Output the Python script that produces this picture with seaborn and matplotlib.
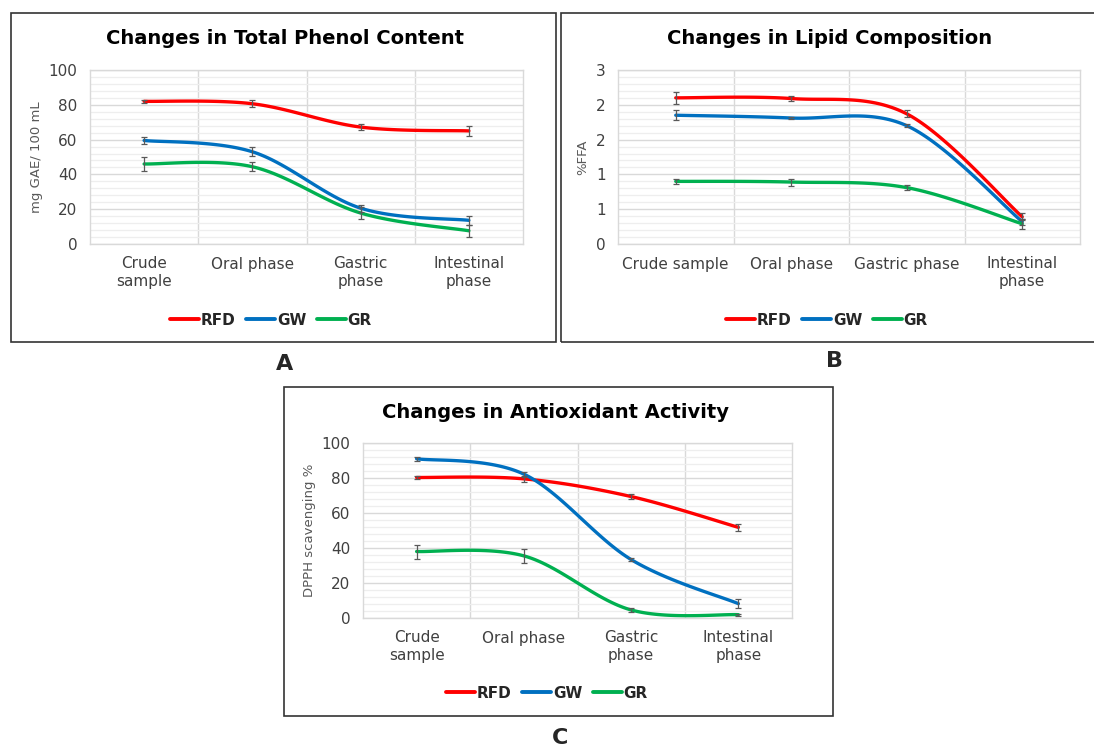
import numpy as np
import pandas as pd
import matplotlib
matplotlib.use("Agg")
import matplotlib.pyplot as plt
import seaborn as sns
from matplotlib.patches import Rectangle
from matplotlib.ticker import MultipleLocator

# ---- data ----
series = ["RFD", "GW", "GR"]
colors = ["#ff0000", "#0070c0", "#00b050"]

stages_wrapped = ["Crude\nsample", "Oral phase", "Gastric\nphase", "Intestinal\nphase"]
stages_wide = ["Crude sample", "Oral phase", "Gastric phase", "Intestinal\nphase"]

# A: total phenol content (mg GAE / 100 mL)
phenol_rfd = [82.0, 80.6, 67.2, 65.0]
phenol_gw = [59.5, 53.0, 20.6, 13.6]
phenol_gr = [46.0, 44.4, 17.8, 7.6]
phenol_rfd_err = [1.0, 2.0, 1.5, 3.0]
phenol_gw_err = [2.0, 2.5, 2.0, 2.5]
phenol_gr_err = [4.0, 2.5, 3.5, 3.5]

# B: lipid composition (%FFA)
ffa_rfd = [2.10, 2.09, 1.87, 0.39]
ffa_gw = [1.85, 1.81, 1.70, 0.32]
ffa_gr = [0.90, 0.89, 0.81, 0.29]
ffa_rfd_err = [0.09, 0.04, 0.05, 0.05]
ffa_gw_err = [0.07, 0.01, 0.02, 0.04]
ffa_gr_err = [0.04, 0.05, 0.04, 0.07]
ffa_ticklabels = ["0", "1", "1", "2", "2", "3"]

# C: antioxidant activity (DPPH scavenging %)
dpph_rfd = [80.3, 79.5, 69.4, 51.8]
dpph_gw = [91.0, 82.2, 33.4, 8.2]
dpph_gr = [38.0, 35.5, 4.6, 1.9]
dpph_rfd_err = [0.6, 1.5, 1.5, 2.0]
dpph_gw_err = [1.0, 1.5, 1.0, 2.5]
dpph_gr_err = [4.0, 4.0, 1.2, 0.6]

W, H = 1094, 746

sns.set_style("white")
plt.rcParams["font.family"] = ["DejaVu Sans"]

fig = plt.figure(figsize=(W / 100, H / 100), dpi=100)


def px_rect(x0, y0, x1, y1):
    return [x0 / W, 1 - y1 / H, (x1 - x0) / W, (y1 - y0) / H]


def smooth(xs, ys, n=40):
    # Excel-style smoothed line: Catmull-Rom segments drawn as cubic Bezier
    pts = np.column_stack([xs, ys]).astype(float)
    P = np.vstack([pts[0], pts, pts[-1]])
    out = []
    for i in range(len(pts) - 1):
        p0, p1, p2, p3 = P[i], P[i + 1], P[i + 2], P[i + 3]
        c1 = p1 + (p2 - p0) / 6
        c2 = p2 - (p3 - p1) / 6
        t = np.linspace(0, 1, n, endpoint=(i == len(pts) - 2))[:, None]
        out.append((1 - t) ** 3 * p1 + 3 * (1 - t) ** 2 * t * c1
                   + 3 * (1 - t) * t ** 2 * c2 + t ** 3 * p2)
    return np.vstack(out)


def draw_panel(box, vals, errs, labels, ylim, major, minor, ylabel, ylabel_px,
               title, title_xy, legend_xy, yticklabels=None):
    x0, y0, x1, y1 = box
    ax = fig.add_axes(px_rect(x0, y0, x1, y1))
    xs = np.arange(len(labels))
    frames = []
    for name, v in zip(series, vals):
        pts = smooth(xs, v)
        frames.append(pd.DataFrame({"x": pts[:, 0], "y": pts[:, 1], "series": name}))
    df = pd.concat(frames, ignore_index=True)
    sns.lineplot(data=df, x="x", y="y", hue="series", hue_order=series,
                 palette=colors, sort=False, estimator=None, linewidth=2.4, ax=ax)
    for v, e in zip(vals, errs):
        ax.errorbar(xs, v, yerr=e, fmt="none", ecolor="#595959", elinewidth=0.9,
                    capsize=2.5, capthick=0.9, zorder=5)

    ax.set_xlim(-0.5, len(labels) - 0.5)
    ax.set_ylim(*ylim)
    ax.yaxis.set_major_locator(MultipleLocator(major))
    ax.yaxis.set_minor_locator(MultipleLocator(minor))
    if yticklabels is not None:
        ax.set_yticks(np.arange(len(yticklabels)) * major)
        ax.set_yticklabels(yticklabels)
    ax.set_xticks(xs)
    ax.set_xticklabels(labels)
    ax.set_xticks(xs[:-1] + 0.5, minor=True)
    ax.grid(which="major", axis="y", color="#d9d9d9", lw=1.0)
    ax.grid(which="minor", axis="y", color="#eeeeee", lw=0.9)
    ax.grid(which="minor", axis="x", color="#d9d9d9", lw=1.0)
    ax.set_axisbelow(True)
    ax.tick_params(which="both", length=0)
    ax.tick_params(axis="y", pad=9, labelsize=11, labelcolor="#404040")
    ax.tick_params(axis="x", pad=9, labelsize=11, labelcolor="#404040")
    for s in ax.spines.values():
        s.set_color("#d9d9d9")
        s.set_linewidth(1.0)
    ax.set_xlabel("")
    ax.set_ylabel(ylabel, fontsize=9.5, color="#595959")
    ax.yaxis.set_label_coords((ylabel_px - x0) / (x1 - x0), 0.5)

    leg = ax.get_legend()
    handles = leg.legend_handles
    texts = [t.get_text() for t in leg.texts]
    leg.remove()
    for h in handles:
        h.set_linewidth(2.8)
    ax.legend(handles, texts, loc="center", ncol=3, frameon=False,
              bbox_to_anchor=(legend_xy[0] / W, 1 - legend_xy[1] / H),
              bbox_transform=fig.transFigure, handlelength=1.9,
              handletextpad=0.1, columnspacing=0.7,
              prop={"weight": "bold", "size": 11})

    fig.text(title_xy[0] / W, 1 - title_xy[1] / H, title, ha="center",
             va="center", fontsize=14, fontweight="bold", color="black")
    return ax


draw_panel((90, 70, 523, 244),
           [phenol_rfd, phenol_gw, phenol_gr],
           [phenol_rfd_err, phenol_gw_err, phenol_gr_err],
           stages_wrapped, (0, 100), 20, 4, "mg GAE/ 100 mL", 43,
           "Changes in Total Phenol Content", (285, 39), (271, 320))

draw_panel((618, 70, 1080, 244),
           [ffa_rfd, ffa_gw, ffa_gr],
           [ffa_rfd_err, ffa_gw_err, ffa_gr_err],
           stages_wide, (0, 2.5), 0.5, 0.1, "%FFA", 589,
           "Changes in Lipid Composition", (830, 39), (827, 320),
           yticklabels=ffa_ticklabels)

draw_panel((363, 443, 792, 618),
           [dpph_rfd, dpph_gw, dpph_gr],
           [dpph_rfd_err, dpph_gw_err, dpph_gr_err],
           stages_wrapped, (0, 100), 20, 4, "DPPH scavenging %", 316,
           "Changes in Antioxidant Activity", (555, 412), (547, 693))

# panel frames
for (bx0, by0, bx1, by1) in [(10.5, 13, 556, 342), (560.5, 13, 1100, 342),
                             (284, 386.5, 833, 716)]:
    fig.patches.append(Rectangle((bx0 / W, 1 - by1 / H), (bx1 - bx0) / W,
                                 (by1 - by0) / H, transform=fig.transFigure,
                                 fill=False, edgecolor="#333333", lw=1.2))

for letter, (lx, ly) in {"A": (285, 364), "B": (834, 361), "C": (560, 738)}.items():
    fig.text(lx / W, 1 - ly / H, letter, ha="center", va="center",
             fontsize=16, fontweight="bold")

fig.savefig("out.png", dpi=100)
